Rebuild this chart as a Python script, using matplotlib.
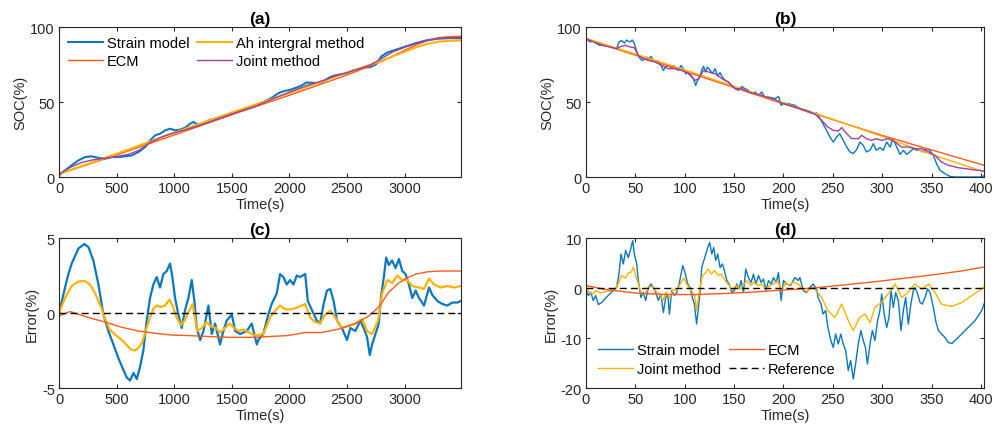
import matplotlib
matplotlib.use('Agg')
import matplotlib.pyplot as plt

plt.rcParams['font.family'] = ['Liberation Sans', 'DejaVu Sans']
plt.rcParams['font.size'] = 10.5
plt.rcParams['axes.unicode_minus'] = False

C_STRAIN = '#0A78BE'
C_ECM = '#FF5A1A'
C_AH = '#FFB300'
C_JOINT = '#A040A0'
C_TXT = '#262626'

# ---------------- (a) SOC, charging ----------------
a_t_strain = [0, 52, 110, 168, 226, 284, 342, 400, 458, 516, 574, 632, 690, 748, 791, 835,
              878, 922, 965, 1009, 1052, 1096, 1139, 1168, 1197, 1241, 1299, 1350, 1400, 1500,
              1600, 1700, 1800, 1850, 1900, 1950, 2000, 2050, 2100, 2150, 2200, 2250, 2300,
              2350, 2400, 2450, 2500, 2550, 2600, 2650, 2700, 2750, 2800, 2850, 2900, 3000,
              3100, 3200, 3300, 3400, 3490]
a_strain = [1.1, 4.4, 7.8, 11.1, 13.3, 13.8, 12.7, 12.2, 13.3, 13.3, 13.8, 14.4, 16.7, 20.0,
            24.4, 27.8, 28.9, 31.1, 32.2, 31.1, 31.6, 32.9, 35.6, 36.7, 35.1, 35.6, 37.8, 38.8,
            40.0, 42.3, 44.8, 47.3, 51.0, 53.0, 55.7, 57.2, 58.0, 59.3, 60.8, 63.0, 62.8, 62.5,
            64.0, 66.5, 67.8, 68.5, 69.4, 71.0, 72.0, 73.0, 73.2, 75.0, 80.5, 83.0, 84.2, 86.8,
            89.3, 91.3, 92.3, 92.6, 92.5]
a_t_ecm = [0, 500, 1000, 1500, 2000, 2500, 2800, 3000, 3100, 3200, 3300, 3400, 3490]
a_ecm = [2.0, 14.7, 28.0, 41.5, 54.5, 68.0, 77.0, 84.5, 88.0, 91.0, 93.0, 93.6, 93.8]
a_t_ah = [0, 500, 1000, 1500, 2000, 2500, 2800, 3000, 3100, 3200, 3300, 3400, 3490]
a_ah = [2.0, 15.5, 29.5, 43.0, 56.0, 69.5, 77.5, 83.5, 86.5, 88.8, 90.3, 90.8, 91.0]
a_t_joint = [0, 100, 200, 300, 400, 500, 600, 700, 800, 900, 1000, 1100, 1200, 1300, 1500,
             1700, 1900, 2000, 2150, 2300, 2400, 2500, 2600, 2700, 2800, 2900, 3000, 3100,
             3200, 3300, 3490]
a_joint = [2.0, 6.5, 9.8, 11.5, 12.5, 13.7, 15.0, 18.0, 23.5, 27.0, 29.5, 31.5, 34.0, 36.5,
           42.0, 47.0, 53.5, 56.5, 61.0, 64.5, 67.5, 69.5, 72.0, 74.5, 79.0, 83.5, 86.5, 89.0,
           91.0, 92.5, 93.0]

# ---------------- (b) SOC, discharging ----------------
b_t_strain = [0.7, 4, 7.4, 10.8, 14, 19, 26, 31, 33.4, 36, 39, 41, 44.6, 47, 49, 51, 53.7,
              56.4, 59, 61.5, 63, 66, 68, 70.6, 73, 76, 78.4, 80.7, 83.4, 86, 88.5, 91, 93.6,
              96.3, 98.6, 101, 103.7, 106.4, 108.8, 111.1, 113, 115.5, 117.2, 119, 121, 123,
              125.7, 128, 130.7, 133.4, 135.8, 138, 141, 144.3, 147.6, 151, 154.4, 157.8, 161,
              164.5, 168, 171.3, 174.7, 178, 181.4, 184.8, 188, 191.5, 195, 197.6, 200, 204.8,
              211.5, 218.3, 225, 230, 233.5, 237, 240, 243.6, 247, 250.4, 253.8, 257, 260.5,
              264, 267.3, 270.7, 274, 277.4, 280.8, 284, 287.6, 291, 294, 297.7, 301, 304.5,
              308, 311, 314.6, 318, 321.4, 324.8, 328, 331.5, 335, 338.3, 341.6, 345, 348,
              351.8, 355, 358.6, 363.6, 368.7, 373.8, 387, 400.8, 403]
b_strain = [92.2, 90.0, 90.7, 88.9, 87.8, 87.8, 86.7, 85.6, 90.0, 91.0, 89.3, 91.3, 90.0, 91.3,
            88.9, 84.4, 80.0, 77.8, 78.2, 80.0, 78.9, 80.4, 77.8, 76.7, 77.3, 74.4, 71.1, 73.3,
            74.4, 72.9, 74.4, 72.2, 71.1, 74.4, 72.2, 68.9, 69.3, 67.8, 65.6, 61.1, 64.4, 66.7,
            71.1, 73.8, 70.0, 73.3, 71.1, 68.9, 72.2, 67.3, 69.6, 66.7, 64.4, 63.3, 61.1, 58.9,
            57.8, 60.4, 58.9, 57.8, 55.6, 56.7, 54.4, 56.7, 52.9, 53.3, 52.9, 52.2, 53.8, 47.8,
            49.3, 48.9, 47.8, 44.9, 43.3, 42.2, 42.7, 38.9, 35.6, 31.1, 26.7, 23.3, 26.7, 28.9,
            24.4, 20.0, 16.7, 15.6, 18.2, 23.3, 21.1, 16.7, 17.8, 22.2, 17.8, 19.6, 17.8, 23.3,
            20.0, 25.6, 20.0, 15.1, 17.8, 15.1, 16.7, 18.9, 17.8, 17.8, 16.7, 18.9, 17.8, 14.4,
            8.9, 4.4, 2.2, 0.4, 0.0, 0.0, 0.0, 0.9]
b_t_ecm = [0, 100, 200, 300, 403]
b_ecm = [92.0, 70.5, 48.8, 27.7, 7.8]
b_t_ah = [0, 100, 200, 250, 300, 350, 403]
b_ah = [92.5, 71.5, 49.5, 38.5, 27.0, 15.0, 3.5]
b_t_joint = [0, 16, 31, 34, 39.5, 44.6, 49, 53, 58, 63, 70, 76.7, 83.4, 90, 97, 103.7, 110.5,
             114, 119, 124, 130.7, 137.5, 144, 151, 158, 164.5, 171, 178, 185, 191.5, 198,
             211.5, 225, 232, 238.6, 245, 250.4, 255.5, 259, 264, 269, 276, 279, 284, 289,
             294, 299.4, 306, 313, 319.7, 326.4, 333, 340, 347, 353.5, 360, 367, 377, 387,
             397.4, 403]
b_joint = [92.2, 87.8, 85.6, 86.7, 87.8, 86.7, 86.2, 81.0, 78.9, 77.8, 76.7, 74.4, 72.2, 72.2,
           71.1, 68.9, 64.4, 65.6, 71.1, 70.0, 68.9, 65.6, 63.3, 58.9, 58.9, 56.7, 55.6, 54.4,
           52.9, 51.6, 49.3, 46.7, 44.0, 41.8, 37.8, 33.3, 31.1, 30.7, 32.9, 28.9, 25.6, 25.6,
           27.8, 25.6, 24.4, 25.6, 24.4, 25.6, 23.3, 20.0, 20.0, 18.9, 18.9, 16.7, 14.4, 10.0,
           7.8, 6.2, 5.3, 4.4, 4.0]

# ---------------- (c) error, charging ----------------
c_t_strain = [0, 52, 81, 110, 168, 220, 255, 298, 342, 385, 428, 472, 515, 559, 588, 617, 646,
              675, 703, 732, 761, 790, 819, 848, 877, 906, 935, 964, 984, 1007, 1036, 1065, 1094,
              1123, 1152, 1175, 1196, 1225, 1254, 1297, 1326, 1355, 1398, 1427, 1456, 1500,
              1529, 1572, 1630, 1673, 1717, 1730, 1773, 1817, 1846, 1890, 1919, 1948, 1977,
              2006, 2035, 2064, 2093, 2137, 2160, 2195, 2238, 2267, 2297, 2326, 2355, 2384,
              2413, 2456, 2500, 2529, 2573, 2616, 2645, 2674, 2698, 2718, 2747, 2776, 2799,
              2820, 2840, 2863, 2892, 2921, 2951, 2980, 3009, 3038, 3067, 3096, 3125, 3169,
              3212, 3241, 3285, 3328, 3372, 3415, 3459, 3488]
c_strain = [0.0, 1.7, 2.6, 3.3, 4.3, 4.6, 4.4, 3.5, 1.9, -0.1, -1.2, -2.1, -3.0, -3.8, -4.3,
            -4.5, -4.0, -4.4, -3.6, -2.5, -0.5, 1.0, 1.9, 2.4, 1.7, 2.6, 2.8, 3.3, 2.4, 1.0,
            -0.1, -1.0, 0.2, 1.0, 2.2, 0.8, -1.0, -1.8, -1.2, 0.5, -1.4, -0.7, -2.1, -1.2, -0.5,
            -0.1, -1.2, -1.4, -1.2, -0.7, -2.1, -1.8, -1.4, -0.1, 0.6, 1.3, 2.6, 2.4, 1.9, 2.2,
            1.9, 2.5, 2.4, 2.6, 0.8, 0.2, -0.5, -0.7, 0.6, 1.5, 1.6, 0.8, -0.5, -1.0, -1.8,
            -1.0, -1.2, -0.5, -1.0, -1.6, -2.8, -2.1, -1.4, -0.7, 1.3, 2.4, 3.7, 3.2, 3.5, 3.0,
            3.6, 2.8, 2.6, 1.9, 1.0, 1.5, 1.0, 0.5, 1.7, 1.2, 0.8, 0.6, 0.5, 0.7, 0.7, 0.8]
c_t_joint = [0, 52, 110, 168, 220, 270, 320, 370, 400, 440, 480, 530, 570, 620, 660, 690, 720,
             760, 790, 820, 850, 880, 920, 960, 990, 1020, 1060, 1090, 1120, 1160, 1200, 1240,
             1280, 1320, 1360, 1400, 1440, 1480, 1520, 1560, 1600, 1650, 1700, 1773, 1832,
             1875, 1919, 1962, 2020, 2078, 2137, 2180, 2224, 2267, 2311, 2355, 2398, 2456,
             2514, 2573, 2631, 2674, 2718, 2770, 2805, 2849, 2892, 2936, 2980, 3023, 3067,
             3125, 3169, 3212, 3256, 3314, 3372, 3430, 3488]
c_joint = [0.0, 1.0, 1.8, 2.1, 2.15, 1.9, 1.2, 0.3, -0.4, -1.1, -1.4, -1.7, -2.0, -2.4, -2.5,
           -2.3, -2.0, -1.0, -0.3, 0.3, 0.5, 0.4, 0.5, 0.9, 0.4, -0.3, -0.8, -0.5, 0.0, 0.6,
           -1.2, -1.0, -0.6, -0.9, -1.0, -1.3, -1.0, -0.7, -1.0, -1.2, -1.1, -1.3, -1.5, -1.4,
           -0.3, 0.15, 0.5, 0.25, 0.25, 0.4, 0.6, -0.3, -0.6, -0.7, -0.1, 0.15, -0.3, -1.0,
           -0.85, -0.7, -0.4, -1.2, -1.4, -0.5, 1.3, 2.2, 2.0, 2.5, 2.2, 2.2, 1.8, 1.7, 1.6,
           2.3, 1.9, 1.7, 1.8, 1.7, 1.8]
c_t_ecm = [0, 95, 255, 400, 544, 689, 834, 979, 1123, 1300, 1500, 1700, 1991, 2137, 2282,
           2427, 2573, 2689, 2776, 2863, 2950, 3009, 3100, 3200, 3300, 3400, 3490]
c_ecm = [-0.2, 0.1, -0.3, -0.6, -0.95, -1.2, -1.35, -1.47, -1.5, -1.57, -1.62, -1.62, -1.5,
         -1.3, -1.3, -1.07, -0.7, -0.2, 0.4, 1.4, 2.0, 2.3, 2.6, 2.75, 2.8, 2.8, 2.8]

# ---------------- (d) error, discharging ----------------
d_t_strain = [0, 2.4, 5, 7.4, 9.8, 12.5, 15.9, 19, 24, 27.7, 31, 33.4, 35.5, 37.8, 40.2, 42.9,
              45.3, 47.3, 49, 51.4, 53, 55.7, 58, 60.5, 63.2, 65.9, 68.2, 70.6, 73.3, 75.7,
              78.4, 80.7, 82.8, 84.5, 86.8, 89.5, 91.9, 94.3, 96.3, 98, 100.3, 103, 105.4,
              107.8, 109.8, 112, 113.9, 115.5, 117.2, 119.3, 121.3, 123.3, 125.3, 127.4, 129.4,
              131.4, 133.4, 135.8, 138.2, 140.2, 142.6, 144.9, 147.6, 150.3, 152.7, 155, 157.1,
              159.5, 161.8, 164.5, 167.2, 169.6, 172, 174.7, 177.4, 179.7, 182.4, 184.8, 187.5,
              189.9, 192.6, 194.9, 197.6, 200, 203.4, 206.8, 208, 211.5, 215, 216.6, 220, 223.4,
              226.7, 230, 233.5, 235, 238, 240, 242.6, 245, 248, 250.4, 252.8, 255.5, 258, 260.5,
              263, 265.6, 268, 270.7, 273, 275.7, 278.4, 280.8, 283, 285, 287.6, 290, 292.6,
              295.3, 297.7, 299.4, 302, 304.5, 306.8, 308.9, 311.2, 313.6, 316.3, 319, 321.4,
              323.7, 326.4, 329, 331.5, 333.2, 335.9, 338.3, 340.6, 343.3, 346, 348.4, 351.8,
              354.5, 356.9, 360.2, 363.6, 367, 370.4, 373.8, 378.8, 383.9, 389, 394, 397.4,
              400.8, 403]
d_strain = [-0.2, -1.5, -0.9, -2.5, -1.5, -3.3, -2.9, -2.2, -1.2, -0.5, 0.1, 2.8, 6.8, 4.8,
            7.5, 6.1, 7.8, 9.5, 6.8, 4.8, 1.5, -1.9, -0.9, -2.5, 0.1, 0.8, 0.1, -0.9, -2.5,
            -1.2, -4.9, -1.9, -1.2, -5.2, -0.5, -1.5, -0.9, 0.8, 2.8, 4.5, 3.1, 0.8, 0.1, -1.9,
            -3.2, -7.2, -3.9, -0.9, 4.1, 5.5, 6.8, 8.1, 9.1, 6.8, 8.1, 5.5, 6.8, 4.1, 4.8, 3.5,
            1.5, 0.8, -0.9, -0.5, 0.8, -0.2, 1.5, -0.9, 3.8, 2.1, 1.1, 2.8, 0.8, 2.5, 1.1, 1.8,
            -0.5, 1.5, 0.8, 2.1, 1.1, 3.1, -2.5, 1.5, 0.8, 0.5, 0.8, 2.1, 1.5, 2.1, -0.5, -0.9,
            0.1, 0.8, -0.2, -1.9, -3.2, -5.2, -4.5, -7.9, -10.5, -11.9, -9.2, -11.2, -9.2,
            -11.2, -12.5, -16.5, -14.5, -18.2, -15.2, -11.2, -8.5, -10.5, -11.9, -15.2, -11.2,
            -8.5, -10.5, -6.5, -4.5, -1.2, -5.2, -7.9, -5.9, -0.5, -3.9, -0.9, -2.5, -8.5,
            -4.5, -1.9, -7.2, -3.2, -0.5, 0.1, -1.2, -2.9, -3.2, -1.9, -0.2, -0.9, -3.9, -6.9,
            -8.5, -9.2, -9.9, -10.9, -11.1, -10.5, -9.5, -8.5, -7.5, -6.5, -5.5, -4.5, -3.2]
d_t_joint = [0, 3, 7, 10, 15, 20, 25, 30, 33, 36, 40, 43, 46, 48, 51, 54, 56, 60, 63, 67, 70,
             74, 78, 81, 85, 88, 92, 96, 99, 102, 106, 110, 112, 115, 118, 121, 124, 127, 130,
             134, 137, 141, 145, 148, 152, 156, 160, 163, 167, 170, 174, 178, 182, 186, 190,
             194, 198, 202, 206, 210, 215, 220, 224, 228, 232, 238.6, 245, 252, 259, 265.6,
             270.7, 277, 282.5, 287.6, 292.6, 299, 306, 313, 319.7, 326, 333, 340, 347, 353.5,
             360, 370, 380.5, 390.7, 400.8, 403]
d_joint = [0.3, -0.8, -1.2, -0.5, -1.0, -0.7, -0.6, 0.0, 1.0, 2.5, 2.0, 3.0, 3.2, 4.2, 2.0,
           0.3, -1.0, -1.3, 0.0, 0.3, -0.5, -1.2, -2.5, -0.8, -2.0, -0.3, -0.5, 1.0, 2.0, 0.8,
           -0.3, -1.5, -4.5, -0.5, 2.5, 3.0, 3.8, 2.8, 3.5, 2.5, 2.8, 1.5, 0.5, -0.5, 0.5,
           -0.2, 0.8, 1.5, 0.5, 1.2, 0.5, 0.8, -0.2, 0.5, 0.8, 1.5, -0.5, 1.0, 0.6, 1.2, 0.8,
           -0.3, -0.7, 0.0, -0.2, -1.9, -4.5, -5.9, -3.2, -6.5, -8.5, -5.9, -5.2, -6.9, -3.9,
           -2.9, -1.2, 0.8, -1.9, -0.9, 0.8, -0.2, 0.8, -0.9, -3.2, -3.7, -2.9, -1.5, -0.2,
           0.3]
d_t_ecm = [0, 20, 50, 80, 110, 140, 170, 200, 230, 260, 290, 320, 350, 380, 403]
d_ecm = [0.5, -0.3, -1.0, -1.3, -1.3, -1.1, -0.8, -0.4, 0.0, 0.6, 1.2, 1.9, 2.6, 3.4, 4.2]

fig = plt.figure(figsize=(9.94, 4.31), dpi=100)
ax_a = fig.add_axes([0.0594, 0.587, 0.4044, 0.348])
ax_b = fig.add_axes([0.5895, 0.587, 0.4004, 0.348])
ax_c = fig.add_axes([0.0594, 0.0974, 0.4044, 0.348])
ax_d = fig.add_axes([0.5895, 0.0974, 0.4004, 0.348])

leg_kw = dict(ncol=2, frameon=False, handlelength=2.4, handletextpad=0.27,
              columnspacing=0.5, labelspacing=0.3, fontsize=10.5)

ax_a.plot(a_t_strain, a_strain, color=C_STRAIN, lw=1.5, label='Strain model')
ax_a.plot(a_t_ecm, a_ecm, color=C_ECM, lw=1.0, label='ECM')
ax_a.plot(a_t_ah, a_ah, color=C_AH, lw=1.5, label='Ah intergral method')
ax_a.plot(a_t_joint, a_joint, color=C_JOINT, lw=1.0, label='Joint method')
ax_a.set_xlim(0, 3490)
ax_a.set_ylim(0, 100)
ax_a.set_xticks([0, 500, 1000, 1500, 2000, 2500, 3000])
ax_a.set_yticks([0, 50, 100])
ax_a.set_ylabel('SOC(%)')
ax_a.set_xlabel('Time(s)', labelpad=1)
ax_a.set_title('(a)', fontweight='bold', pad=3)
ax_a.legend(loc='upper left', borderaxespad=0.2, **leg_kw)

ax_b.plot(b_t_strain, b_strain, color=C_STRAIN, lw=1.0)
ax_b.plot(b_t_ecm, b_ecm, color=C_ECM, lw=1.0)
ax_b.plot(b_t_ah, b_ah, color=C_AH, lw=1.0)
ax_b.plot(b_t_joint, b_joint, color=C_JOINT, lw=1.0)
ax_b.set_xlim(0, 403)
ax_b.set_ylim(0, 100)
ax_b.set_xticks([0, 50, 100, 150, 200, 250, 300, 350, 400])
ax_b.set_yticks([0, 50, 100])
ax_b.set_ylabel('SOC(%)')
ax_b.set_xlabel('Time(s)', labelpad=1)
ax_b.set_title('(b)', fontweight='bold', pad=3)

ax_c.plot(c_t_strain, c_strain, color=C_STRAIN, lw=1.6)
ax_c.plot(c_t_joint, c_joint, color=C_AH, lw=1.6)
ax_c.plot(c_t_ecm, c_ecm, color=C_ECM, lw=1.0)
ax_c.axhline(0, color='black', ls=(0, (5, 3)), lw=1.0)
ax_c.set_xlim(0, 3490)
ax_c.set_ylim(-5, 5)
ax_c.set_xticks([0, 500, 1000, 1500, 2000, 2500, 3000])
ax_c.set_yticks([-5, 0, 5])
ax_c.set_ylabel('Error(%)')
ax_c.set_xlabel('Time(s)', labelpad=1)
ax_c.set_title('(c)', fontweight='bold', pad=3)

ax_d.plot(d_t_strain, d_strain, color=C_STRAIN, lw=1.0, label='Strain model')
ax_d.plot(d_t_joint, d_joint, color=C_AH, lw=1.0, label='Joint method')
ax_d.plot(d_t_ecm, d_ecm, color=C_ECM, lw=1.0, label='ECM')
ax_d.axhline(0, color='black', ls=(0, (5, 3)), lw=1.0, label='Reference')
ax_d.set_xlim(0, 403)
ax_d.set_ylim(-20, 10)
ax_d.set_xticks([0, 50, 100, 150, 200, 250, 300, 350, 400])
ax_d.set_yticks([-20, -10, 0, 10])
ax_d.set_ylabel('Error(%)')
ax_d.set_xlabel('Time(s)', labelpad=1)
ax_d.set_title('(d)', fontweight='bold', pad=3)
ax_d.legend(loc='lower left', borderaxespad=0.45, **leg_kw)

for ax in (ax_a, ax_b, ax_c, ax_d):
    ax.tick_params(direction='in', top=True, right=True, length=3, colors=C_TXT,
                   labelsize=10.5, pad=3)
    for s in ax.spines.values():
        s.set_color(C_TXT)
        s.set_linewidth(0.8)
    ax.xaxis.label.set_color(C_TXT)
    ax.yaxis.label.set_color(C_TXT)
    ax.yaxis.labelpad = 2

fig.savefig('out.png', dpi=100)
